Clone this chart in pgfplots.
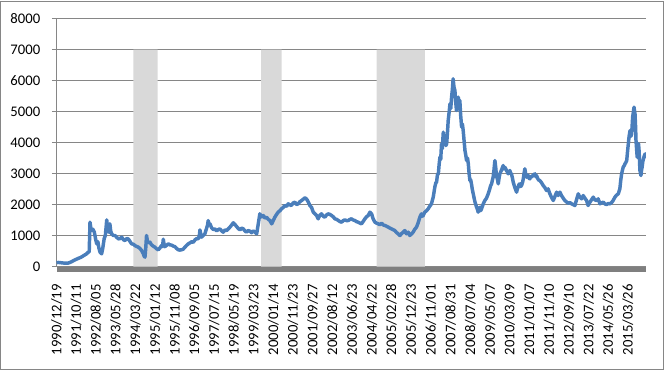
\documentclass[border=0pt]{standalone}
\usepackage{pgfplots}
\pgfplotsset{compat=1.18}
\usepackage{fontspec}
\setmainfont{Carlito}
\definecolor{linec}{HTML}{4A7EBB}
\definecolor{bandc}{HTML}{D9D9D9}
\definecolor{gridc}{HTML}{868686}
\definecolor{barc}{HTML}{7F7F7F}
\begin{document}
\begin{tikzpicture}[font=\fontsize{11}{13}\selectfont]
\path[use as bounding box] (-42.375pt,-78.375pt) rectangle (457.125pt,199.875pt);
\draw[gridc, line width=0.75pt] (-42pt,-76.9pt) rectangle (455.6pt,199.1pt);
\begin{axis}[
  name=ax, at={(0,0)}, anchor=south west,
  scale only axis, width=442pt, height=186pt,
  xmin=0, xmax=29.91, ymin=0, ymax=8000,
  axis lines*=left,
  x axis line style={draw=none},
  y axis line style={gridc, line width=0.75pt, -},
  ytick={0,1000,2000,3000,4000,5000,6000,7000,8000},
  yticklabels={0,1000,2000,3000,4000,5000,6000,7000,8000},
  xtick={0,1,...,29},
  xticklabels={1990/12/19,1991/10/11,1992/08/05,1993/05/28,1994/03/22,1995/01/12,1995/11/08,1996/09/05,1997/07/15,1998/05/19,1999/03/23,2000/01/14,2000/11/23,2001/09/27,2002/08/12,2003/06/23,2004/04/22,2005/02/28,2005/12/23,2006/11/01,2007/08/31,2008/07/04,2009/05/07,2010/03/09,2011/01/07,2011/11/10,2012/09/10,2013/07/22,2014/05/26,2015/03/26},
  ymajorgrids, grid style={gridc, line width=0.75pt},
  xtick style={draw=none},
  ytick style={gridc, line width=0.75pt},
  tick align=outside, major tick length=3.4pt,
  every tick label/.append style={font=\fontsize{11}{13}\selectfont, text=black},
  yticklabel style={anchor=east, inner sep=0pt, xshift=-8.6pt},
  xticklabel style={yshift=-9.8pt, rotate=90, anchor=east, inner sep=0pt},
]
\addplot[fill=bandc, draw=none] coordinates {(3.90,0) (3.90,7000) (5.13,7000) (5.13,0)} \closedcycle;
\addplot[fill=bandc, draw=none] coordinates {(10.38,0) (10.38,7000) (11.43,7000) (11.43,0)} \closedcycle;
\addplot[fill=bandc, draw=none] coordinates {(16.25,0) (16.25,7000) (18.70,7000) (18.70,0)} \closedcycle;
\addplot[linec, line width=2.6pt, line join=round, mark=none] table {
x y
0 127
0.1 130
0.2 125
0.3 115
0.45 108
0.6 110
0.75 150
0.94 215
1.1 260
1.25 300
1.4 360
1.53 410
1.61 462
1.66 470
1.70 1430
1.74 1250
1.78 1161
1.85 1200
1.92 1108
1.98 900
2.04 731
2.10 800
2.15 600
2.21 460
2.29 409
2.35 600
2.42 900
2.48 1000
2.55 1505
2.58 1300
2.63 1215
2.67 1100
2.71 1376
2.75 1150
2.80 1054
2.88 1000
2.97 1000
3.05 946
3.14 892
3.22 900
3.31 946
3.40 860
3.48 839
3.56 900
3.64 892
3.72 820
3.81 731
3.90 720
3.98 677
4.06 650
4.15 624
4.24 580
4.32 516
4.40 420
4.45 330
4.49 301
4.53 600
4.57 1000
4.62 800
4.68 760
4.74 785
4.82 700
4.90 660
5.00 620
5.08 570
5.17 540
5.25 600
5.33 677
5.38 640
5.42 880
5.46 700
5.50 640
5.58 680
5.67 731
5.75 700
5.84 690
5.92 660
6.01 640
6.10 580
6.18 540
6.26 530
6.35 540
6.43 560
6.52 624
6.60 680
6.69 731
6.77 760
6.86 800
6.94 780
7.03 860
7.11 900
7.19 892
7.25 1000
7.28 1180
7.32 1050
7.36 946
7.45 1000
7.53 1054
7.60 1200
7.66 1320
7.70 1480
7.74 1380
7.79 1376
7.87 1250
7.96 1190
8.04 1215
8.13 1150
8.21 1190
8.29 1215
8.38 1150
8.46 1108
8.55 1180
8.63 1161
8.71 1210
8.80 1269
8.88 1330
8.97 1410
9.05 1360
9.14 1290
9.22 1230
9.31 1180
9.40 1240
9.48 1215
9.56 1150
9.64 1108
9.73 1160
9.81 1140
9.90 1090
9.98 1150
10.07 1108
10.16 1054
10.32 1699
10.40 1600
10.49 1645
10.58 1560
10.66 1591
10.75 1520
10.83 1484
10.92 1376
11.00 1480
11.08 1591
11.17 1680
11.25 1753
11.34 1800
11.42 1860
11.50 1900
11.59 1968
11.68 1940
11.76 2022
11.84 1990
11.92 1968
12.01 2050
12.10 2075
12.18 2000
12.27 2022
12.35 2090
12.44 2129
12.52 2170
12.61 2215
12.68 2180
12.74 2129
12.80 2050
12.86 1968
12.95 1900
13.03 1753
13.12 1700
13.20 1645
13.28 1538
13.36 1650
13.45 1699
13.54 1620
13.62 1591
13.70 1660
13.79 1699
13.88 1680
13.96 1645
14.05 1600
14.13 1538
14.22 1520
14.30 1484
14.38 1450
14.47 1430
14.55 1480
14.64 1505
14.72 1480
14.81 1484
14.89 1520
14.97 1538
15.06 1500
15.14 1484
15.22 1450
15.31 1430
15.40 1400
15.48 1376
15.56 1450
15.65 1538
15.73 1600
15.82 1645
15.91 1753
15.99 1699
16.07 1538
16.16 1430
16.24 1400
16.33 1376
16.41 1350
16.50 1398
16.58 1340
16.67 1323
16.75 1300
16.84 1269
16.92 1240
17.00 1215
17.08 1190
17.17 1161
17.25 1100
17.34 1054
17.43 1000
17.51 1060
17.60 1108
17.68 1161
17.76 1054
17.85 1108
17.93 1000
18.01 1050
18.10 1108
18.18 1200
18.27 1269
18.35 1400
18.44 1591
18.52 1699
18.56 1620
18.61 1645
18.69 1753
18.78 1800
18.86 1860
18.95 1950
19.03 2022
19.08 2150
19.12 2237
19.16 2400
19.20 2559
19.25 2700
19.29 2720
19.33 2950
19.38 3000
19.42 3300
19.46 3527
19.50 3450
19.54 3957
19.58 3800
19.63 4333
19.67 4100
19.71 4172
19.76 3900
19.80 3957
19.84 4300
19.88 4710
19.93 5000
19.97 5247
20.01 5100
20.05 5462
20.09 5700
20.13 6054
20.17 5800
20.22 5677
20.26 5300
20.30 5032
20.34 5200
20.39 5462
20.43 5300
20.47 5355
20.51 4900
20.56 4495
20.60 4600
20.64 4387
20.68 4100
20.73 3742
20.77 3600
20.81 3419
20.86 3500
20.90 3312
20.94 3000
20.98 2774
21.02 2800
21.06 2667
21.10 2500
21.15 2344
21.23 2100
21.32 1914
21.36 1850
21.40 1753
21.45 1860
21.49 1914
21.53 1800
21.57 1860
21.62 1950
21.66 2022
21.70 2080
21.74 2129
21.82 2200
21.91 2344
21.99 2505
22.03 2600
22.08 2667
22.12 2780
22.16 2882
22.20 3100
22.25 3419
22.29 3200
22.33 2935
22.38 2800
22.42 2667
22.46 2850
22.50 2989
22.58 3100
22.67 3258
22.71 3150
22.75 3204
22.80 3150
22.84 3097
22.88 3050
22.92 2989
22.96 3050
23.01 3097
23.05 3000
23.09 2989
23.14 2850
23.18 2720
23.26 2550
23.35 2398
23.39 2500
23.43 2559
23.47 2650
23.52 2667
23.56 2580
23.60 2613
23.65 2700
23.69 2828
23.73 3000
23.77 3151
23.82 2950
23.86 2882
23.90 2950
23.94 2935
23.98 2850
24.02 2828
24.07 2900
24.11 2882
24.19 2950
24.28 2989
24.32 2900
24.36 2935
24.45 2800
24.53 2774
24.62 2700
24.70 2613
24.78 2550
24.87 2452
24.95 2505
25.04 2344
25.12 2237
25.21 2129
25.29 2250
25.38 2398
25.46 2290
25.55 2398
25.63 2290
25.72 2200
25.80 2129
25.89 2080
25.97 2043
26.06 2060
26.14 2022
26.22 2000
26.31 1968
26.39 2150
26.48 2344
26.56 2237
26.65 2183
26.73 2290
26.82 2200
26.90 2129
26.98 1968
27.07 2075
27.15 2150
27.24 2237
27.32 2150
27.41 2129
27.49 2183
27.58 2022
27.66 2050
27.75 2075
27.83 2020
27.91 2000
28.00 2030
28.08 2022
28.17 2060
28.25 2129
28.34 2237
28.42 2300
28.51 2344
28.59 2505
28.64 2800
28.68 2989
28.72 3100
28.76 3204
28.81 3250
28.85 3312
28.89 3350
28.94 3419
28.98 3700
29.02 3957
29.06 4200
29.11 4387
29.15 4200
29.19 4280
29.22 4600
29.24 4817
29.28 5000
29.31 5140
29.34 5000
29.36 4925
29.39 4500
29.41 4065
29.44 3800
29.47 3527
29.50 3800
29.54 3957
29.57 3700
29.61 3097
29.64 3000
29.66 2935
29.69 3100
29.72 3204
29.76 3400
29.81 3527
29.85 3600
29.88 3634
29.91 3500
};
\end{axis}
\fill[barc] (ax.south west) rectangle ([yshift=-3.75pt]ax.south east);
\end{tikzpicture}
\end{document}
